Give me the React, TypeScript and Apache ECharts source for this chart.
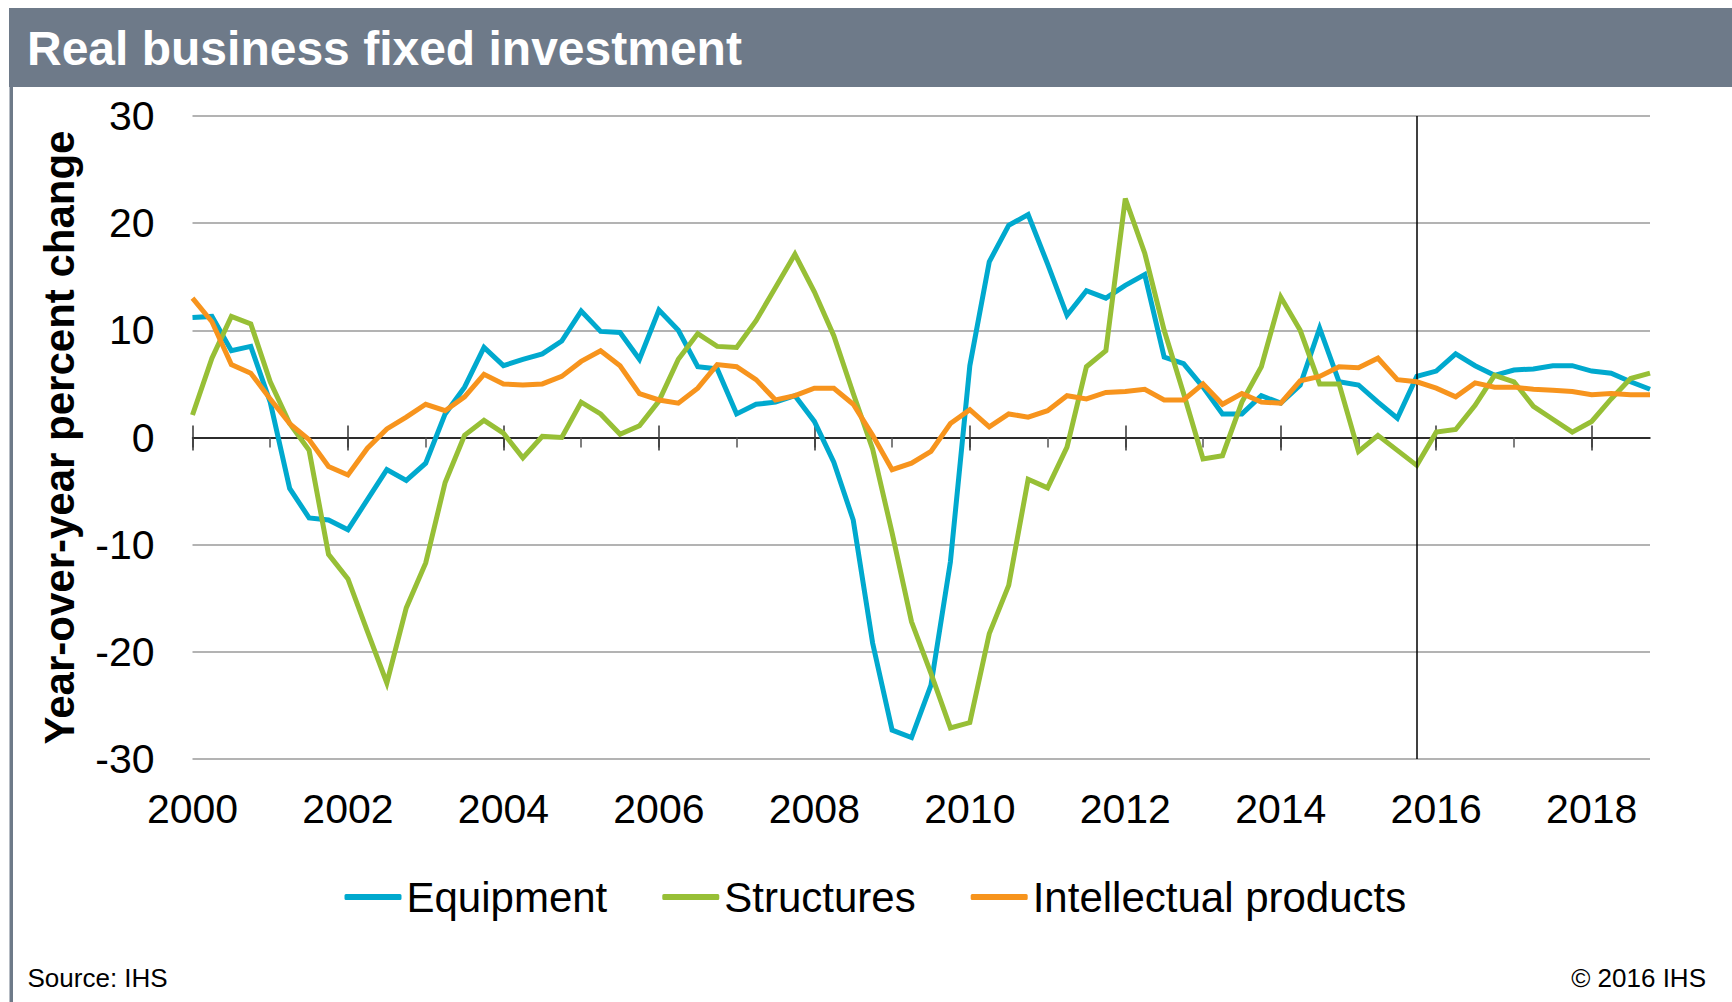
import React, { useEffect, useRef } from "react";
import * as echarts from "echarts";

const years = Array.from({ length: 19 }, (_, k) => 2000 + k);
const quarters: string[] = [];
years.forEach((y) => ["Q1", "Q2", "Q3", "Q4"].forEach((q) => quarters.push(`${y}${q}`)));

const equipment = [
  11.2, 11.3, 8.1, 8.5, 3.3, -4.75, -7.5, -7.7, -8.6, -5.8, -3.0, -4.0, -2.4, 2.2, 4.7, 8.4,
  6.7, 7.3, 7.8, 9.0, 11.8, 9.9, 9.8, 7.3, 11.9, 10.0, 6.6, 6.4, 2.2, 3.1, 3.3, 3.9,
  1.5, -2.3, -7.7, -19.2, -27.3, -28.0, -23.1, -11.6, 6.7, 16.4, 19.8, 20.8, 16.2, 11.4, 13.7, 13.0,
  14.2, 15.2, 7.5, 6.9, 4.7, 2.2, 2.2, 3.9, 3.2, 4.9, 10.2, 5.2, 4.9, 3.3, 1.8, 5.7,
  6.2, 7.8, 6.7, 5.8, 6.3, 6.4, 6.7, 6.7, 6.2, 6.0, 5.2, 4.5,
];

const structures = [
  2.1, 7.4, 11.3, 10.6, 5.2, 1.3, -1.2, -10.9, -13.2, -18.1, -22.9, -15.9, -11.7, -4.2, 0.2, 1.6,
  0.4, -1.9, 0.1, 0.0, 3.3, 2.2, 0.3, 1.1, 3.4, 7.3, 9.7, 8.5, 8.4, 10.9, 14.0, 17.1,
  13.6, 9.5, 4.1, -1.1, -8.9, -17.2, -22.0, -27.1, -26.6, -18.3, -13.8, -3.9, -4.7, -0.9, 6.6, 8.1,
  22.3, 17.2, 10.0, 4.1, -2.0, -1.7, 3.3, 6.6, 13.1, 10.0, 5.0, 5.0, -1.3, 0.2, -1.2, -2.6,
  0.5, 0.75, 3.0, 5.8, 5.2, 2.9, 1.7, 0.5, 1.5, 3.6, 5.5, 6.0,
];

const intellectual = [
  13.0, 10.8, 6.8, 6.0, 3.6, 1.3, -0.2, -2.7, -3.5, -1.0, 0.8, 1.9, 3.1, 2.5, 3.8, 5.9,
  5.0, 4.9, 5.0, 5.7, 7.1, 8.1, 6.7, 4.1, 3.5, 3.2, 4.6, 6.8, 6.6, 5.4, 3.5, 3.9,
  4.6, 4.6, 3.1, 0.2, -3.0, -2.4, -1.3, 1.3, 2.6, 1.0, 2.2, 1.9, 2.5, 3.9, 3.6, 4.2,
  4.3, 4.5, 3.5, 3.5, 5.0, 3.1, 4.1, 3.3, 3.2, 5.3, 5.7, 6.6, 6.5, 7.4, 5.4, 5.2,
  4.6, 3.8, 5.1, 4.7, 4.7, 4.5, 4.4, 4.3, 4.0, 4.1, 4.0, 4.0,
];

const seriesNames = ["Equipment", "Structures", "Intellectual products"];
const seriesColors = ["#00a9ce", "#97bf36", "#f7941d"];
const forecastStart = "2015Q4";
const yTicks = { min: -30, max: 30, interval: 10 };

const FONT = "'Liberation Sans', Arial, Helvetica, sans-serif";
const FRAME = "#6e7a89";

export default function App() {
  const ref = useRef<HTMLDivElement>(null);

  useEffect(() => {
    if (!ref.current) return;
    const chart = echarts.init(ref.current, undefined, { renderer: "svg" });
    const datasets = [equipment, structures, intellectual];

    const baseX = {
      type: "category" as const,
      data: quarters,
      boundaryGap: false,
      splitLine: { show: false },
    };

    chart.setOption({
      animation: false,
      backgroundColor: "#ffffff",
      textStyle: { fontFamily: FONT },
      grid: { left: 192.5, right: 82, top: 116, bottom: 243, containLabel: false },
      legend: {
        left: 339.5,
        top: 871,
        itemWidth: 57,
        itemHeight: 6,
        itemGap: 55,
        icon: "roundRect",
        data: seriesNames,
        textStyle: { fontSize: 42, color: "#000", fontFamily: FONT },
      },
      xAxis: [
        {
          ...baseX,
          position: "bottom",
          axisLine: { show: false, onZero: false },
          axisTick: { show: false },
          axisLabel: {
            interval: 7,
            formatter: (v: string) => v.slice(0, 4),
            fontSize: 41,
            color: "#000",
            margin: 29,
            fontFamily: FONT,
          },
        },
        {
          ...baseX,
          position: "bottom",
          axisLine: { show: true, onZero: true, onZeroAxisIndex: 0, lineStyle: { color: "#000", width: 1.5 } },
          axisTick: { show: true, interval: 3, length: 10, lineStyle: { color: "#555", width: 1.5 } },
          axisLabel: { show: false },
        },
        {
          ...baseX,
          position: "bottom",
          axisLine: { show: false, onZero: true, onZeroAxisIndex: 0 },
          axisTick: { show: true, interval: 7, length: 13, lineStyle: { color: "#333", width: 1.5 } },
          axisLabel: { show: false },
        },
        {
          ...baseX,
          position: "top",
          axisLine: { show: false, onZero: true, onZeroAxisIndex: 0 },
          axisTick: { show: true, interval: 7, length: 12, lineStyle: { color: "#333", width: 1.5 } },
          axisLabel: { show: false },
        },
      ],
      yAxis: {
        type: "value",
        min: yTicks.min,
        max: yTicks.max,
        interval: yTicks.interval,
        axisLine: { show: false },
        axisTick: { show: false },
        splitLine: { lineStyle: { color: "#9a9a9a", width: 1.5 } },
        axisLabel: { fontSize: 41, color: "#000", margin: 38, fontFamily: FONT },
        name: "Year-over-year percent change",
        nameLocation: "middle",
        nameGap: 112,
        nameTextStyle: { fontSize: 42, fontWeight: "bold", color: "#000", fontFamily: FONT },
      },
      series: seriesNames.map((name, k) => ({
        name,
        type: "line",
        xAxisIndex: 0,
        data: datasets[k],
        symbol: "none",
        color: seriesColors[k],
        lineStyle: { width: 5, color: seriesColors[k], join: "miter" },
        z: 3 + k,
        ...(k === 0
          ? {
              markLine: {
                silent: true,
                symbol: ["none", "none"],
                label: { show: false },
                lineStyle: { color: "#000", width: 1.5, type: "solid" },
                data: [{ xAxis: forecastStart }],
              },
            }
          : {}),
      })),
      graphic: [
        {
          type: "rect",
          shape: { x: 9, y: 8, width: 1723, height: 79 },
          style: { fill: FRAME },
          silent: true,
        },
        {
          type: "rect",
          shape: { x: 9.5, y: 86, width: 3.5, height: 916 },
          style: { fill: FRAME },
          silent: true,
        },
        {
          type: "text",
          x: 27,
          y: 48,
          style: {
            text: "Real business fixed investment",
            fill: "#fff",
            fontSize: 48,
            fontWeight: "bold",
            fontFamily: FONT,
            align: "left",
            verticalAlign: "middle",
          },
          silent: true,
        },
        {
          type: "text",
          x: 27.5,
          y: 977.5,
          style: {
            text: "Source: IHS",
            fill: "#000",
            fontSize: 26,
            fontFamily: FONT,
            align: "left",
            verticalAlign: "middle",
          },
          silent: true,
        },
        {
          type: "text",
          x: 1706,
          y: 977.5,
          style: {
            text: "© 2016 IHS",
            fill: "#000",
            fontSize: 26,
            fontFamily: FONT,
            align: "right",
            verticalAlign: "middle",
          },
          silent: true,
        },
      ],
    });

    return () => chart.dispose();
  }, []);

  return (
    <div
      ref={ref}
      style={{ position: "fixed", left: 0, top: 0, width: 1732, height: 1002, background: "#fff" }}
    />
  );
}
